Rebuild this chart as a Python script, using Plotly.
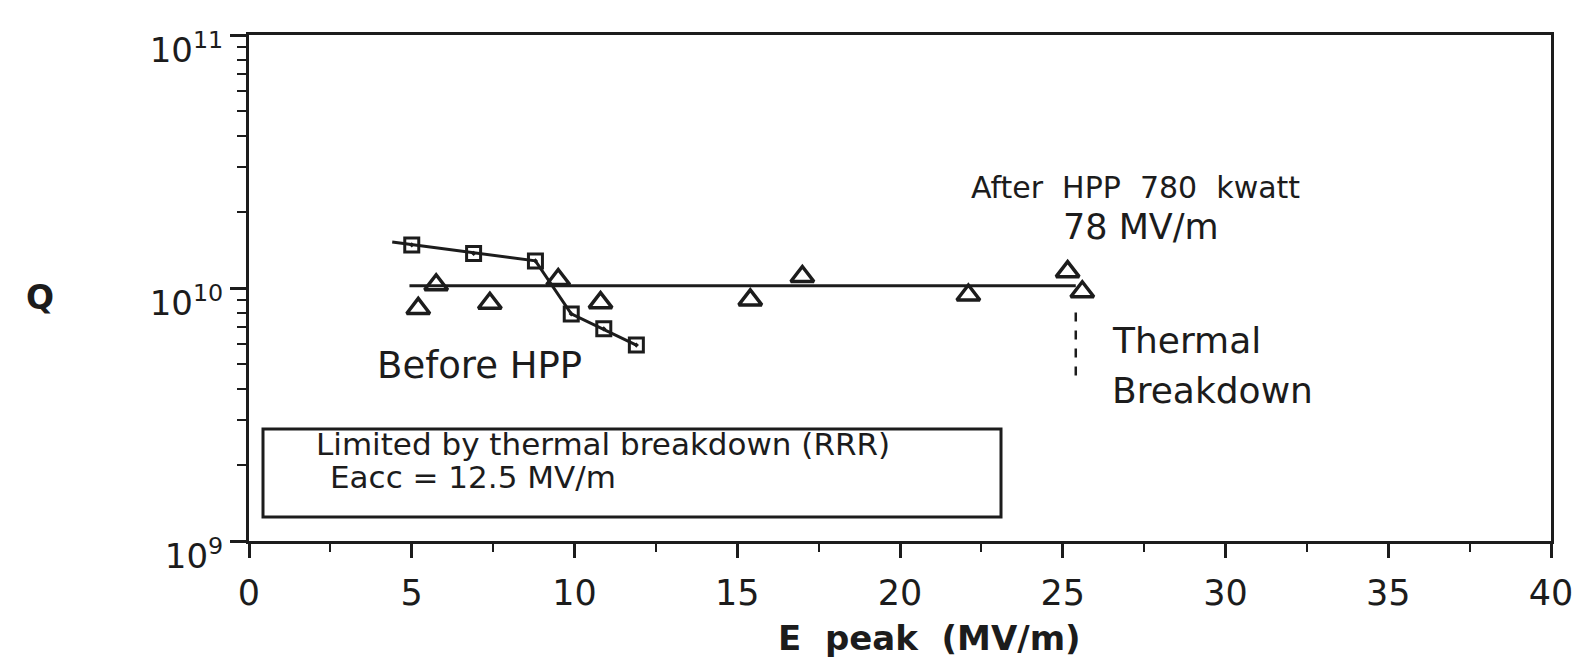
import plotly.graph_objects as go

# ---------------- data ----------------
before_x = [5.0, 6.9, 8.8, 9.9, 10.9, 11.9]
before_q = [1.48e10, 1.37e10, 1.28e10, 7.9e9, 6.9e9, 5.95e9]
before_fit_x = [4.4, 8.8, 9.9, 11.9]
before_fit_q = [1.52e10, 1.28e10, 7.9e9, 5.95e9]

after_x = [5.2, 5.75, 7.4, 9.5, 10.8, 15.4, 17.0, 22.1, 25.15, 25.6]
after_q = [8.3e9, 1.03e10, 8.7e9, 1.08e10, 8.75e9, 8.97e9, 1.11e10, 9.38e9, 1.16e10, 9.66e9]
after_fit_x = [4.93, 25.4]
after_fit_q = [1.02e10, 1.02e10]

breakdown_x = [25.4, 25.4]
breakdown_q = [8.0e9, 4.5e9]

x_ticks = [0, 5, 10, 15, 20, 25, 30, 35, 40]
x_minor = [2.5, 7.5, 12.5, 17.5, 22.5, 27.5, 32.5, 37.5]
y_ticks = [1e9, 1e10, 1e11]
y_ticktext = ["10<sup>9</sup>", "10<sup>10</sup>", "10<sup>11</sup>"]
y_minor = [m * 10 ** e for e in (9, 10) for m in range(2, 10)]

INK = "#1c1c1c"
FONT = "DejaVu Sans"

# plot area in pixels
L, R, T, B = 249, 1551, 35, 541
W, H = 1589, 658


def px(x):
    return (x - L) / (R - L)


def py(y):
    return (B - y) / (B - T)


fig = go.Figure()

fig.add_trace(go.Scatter(x=before_fit_x, y=before_fit_q, mode="lines",
                         line=dict(color=INK, width=3), hoverinfo="skip",
                         showlegend=False))
fig.add_trace(go.Scatter(x=after_fit_x, y=after_fit_q, mode="lines",
                         line=dict(color=INK, width=3), hoverinfo="skip",
                         showlegend=False))
fig.add_trace(go.Scatter(x=breakdown_x, y=breakdown_q, mode="lines",
                         line=dict(color=INK, width=2.5, dash="9px,9px"),
                         hoverinfo="skip", showlegend=False))
fig.add_trace(go.Scatter(x=before_x, y=before_q, mode="markers", name="Before HPP",
                         marker=dict(symbol="square-open-dot", size=14, color=INK,
                                     line=dict(width=3, color=INK)),
                         showlegend=False))
fig.add_trace(go.Scatter(x=after_x, y=after_q, mode="markers", name="After HPP",
                         marker=dict(symbol="triangle-up-open", size=20, color=INK,
                                     line=dict(width=3.5, color=INK)),
                         showlegend=False))

annots = []


def note(text, x, y, size=34, xanchor="center", bold=False):
    annots.append(dict(text=f"<b>{text}</b>" if bold else text,
                       x=px(x), y=py(y), xref="paper", yref="paper",
                       xanchor=xanchor, yanchor="middle", showarrow=False,
                       font=dict(family=FONT, size=size, color=INK)))


note("After\u00a0 HPP\u00a0 780\u00a0 kwatt", 1135, 187, size=30)
note("78 MV/m", 1141, 227, size=35)
note("Before HPP", 479, 365, size=37)
note("Thermal", 1110, 340, size=36, xanchor="left")
note("Breakdown", 1110, 390, size=36, xanchor="left")
note("Limited by thermal breakdown (RRR)", 314, 444, size=31, xanchor="left")
note("Eacc = 12.5 MV/m", 328, 477, size=31, xanchor="left")
note("E\u00a0 peak\u00a0 (MV/m)", 929, 638, size=34, bold=True)
note("Q", 40, 297, size=33, bold=True)

fig.add_shape(type="rect", xref="paper", yref="paper",
              x0=px(263), x1=px(1001), y0=py(429), y1=py(517),
              line=dict(color=INK, width=3), fillcolor="rgba(0,0,0,0)")

fig.update_layout(
    width=W, height=H, autosize=False,
    margin=dict(l=L, r=W - R, t=T, b=H - B, pad=0),
    paper_bgcolor="white", plot_bgcolor="white",
    annotations=annots,
    font=dict(family=FONT, color=INK),
    xaxis=dict(range=[0, 40], tickmode="array", tickvals=x_ticks,
               automargin=False,
               ticks="outside", ticklen=14, tickwidth=2.5, tickcolor=INK,
               showline=True, linewidth=3, linecolor=INK, mirror=True,
               showgrid=False, zeroline=False,
               tickfont=dict(family=FONT, size=35, color=INK),
               ticklabelstandoff=5,
               minor=dict(tickmode="array", tickvals=x_minor, ticks="outside",
                          ticklen=8, tickwidth=2, tickcolor=INK, showgrid=False)),
    yaxis=dict(type="log", range=[9, 11], tickmode="array", tickvals=y_ticks,
               ticktext=y_ticktext, automargin=False,
               ticks="outside", ticklen=16, tickwidth=2.5, tickcolor=INK,
               showline=True, linewidth=3, linecolor=INK, mirror=True,
               showgrid=False, zeroline=False,
               tickfont=dict(family=FONT, size=34, color=INK),
               ticklabelshift=15,
               minor=dict(tickmode="array", tickvals=y_minor, ticks="outside",
                          ticklen=9, tickwidth=2, tickcolor=INK, showgrid=False)),
)

fig.write_html("out.html")
